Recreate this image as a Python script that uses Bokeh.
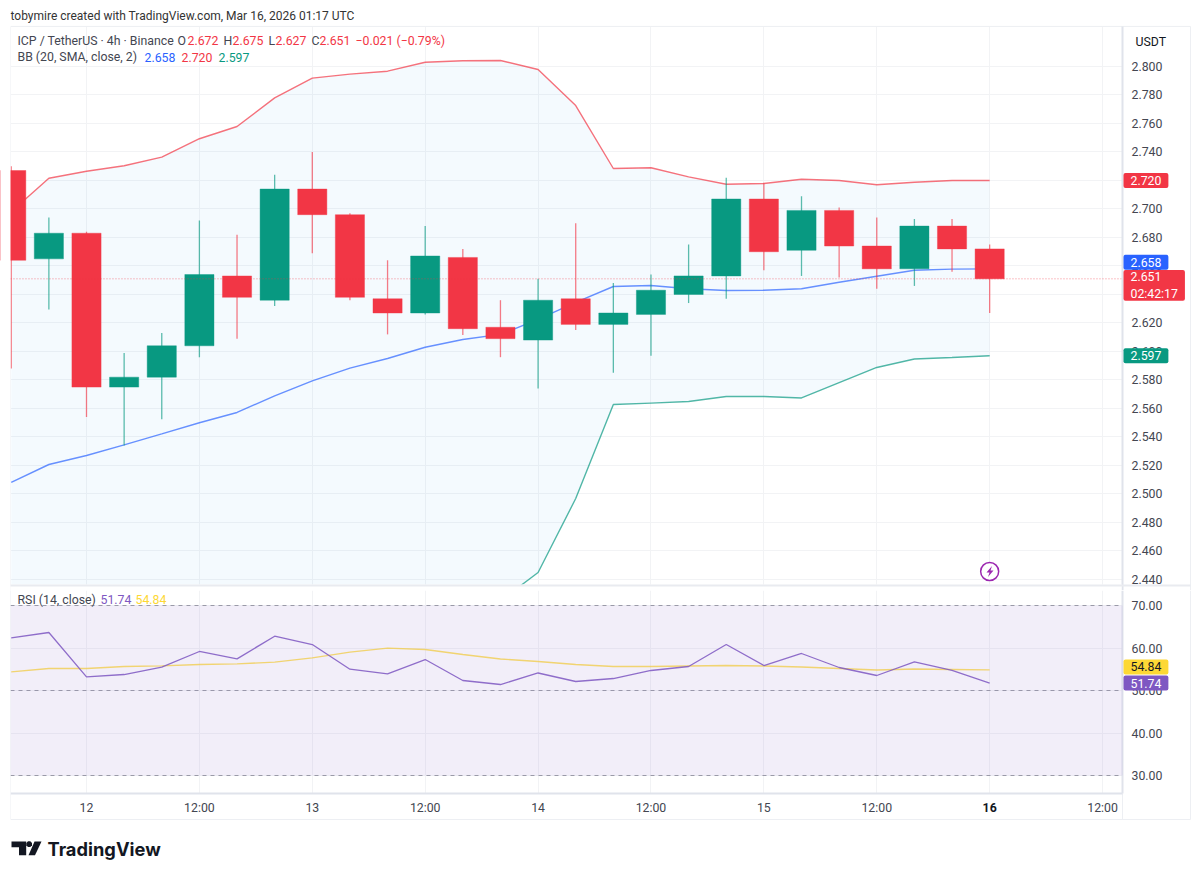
from bokeh.embed import file_html
from bokeh.layouts import column
from bokeh.models import BoxAnnotation, FixedTicker, Label, NumeralTickFormatter, PolyAnnotation, Range1d
from bokeh.plotting import figure
from bokeh.resources import INLINE

# Candles, 4h bars, hours counted from Mar 12 00:00
hours = [-8, -4, 0, 4, 8, 12, 16, 20, 24, 28, 32, 36, 40, 44, 48, 52, 56, 60, 64, 68, 72, 76, 80, 84, 88, 92, 96]
opens = [2.727, 2.665, 2.683, 2.575, 2.582, 2.604, 2.653, 2.636, 2.714, 2.696, 2.637, 2.627, 2.666, 2.617,
         2.608, 2.637, 2.619, 2.626, 2.640, 2.653, 2.707, 2.671, 2.699, 2.674, 2.658, 2.688, 2.672]
highs = [2.730, 2.694, 2.684, 2.599, 2.613, 2.692, 2.682, 2.724, 2.740, 2.697, 2.664, 2.688, 2.672, 2.636,
         2.651, 2.690, 2.648, 2.654, 2.675, 2.722, 2.718, 2.709, 2.701, 2.694, 2.693, 2.693, 2.675]
lows = [2.588, 2.6295, 2.554, 2.534, 2.5525, 2.596, 2.609, 2.632, 2.669, 2.636, 2.612, 2.626, 2.6115, 2.596,
        2.574, 2.615, 2.585, 2.597, 2.634, 2.637, 2.657, 2.653, 2.652, 2.644, 2.646, 2.656, 2.627]
closes = [2.664, 2.683, 2.575, 2.582, 2.604, 2.654, 2.638, 2.714, 2.696, 2.638, 2.627, 2.667, 2.616, 2.609,
          2.636, 2.619, 2.627, 2.643, 2.653, 2.707, 2.670, 2.699, 2.674, 2.658, 2.688, 2.672, 2.651]

# Bollinger bands
bb_upper = [2.698, 2.7216, 2.7265, 2.7303, 2.7364, 2.7493, 2.7579, 2.778, 2.7918, 2.7946, 2.7967, 2.803, 2.804, 2.8042,
            2.7979, 2.7726, 2.7284, 2.7289, 2.7225, 2.7174, 2.7179, 2.7209, 2.72, 2.717, 2.7188, 2.72, 2.72]
bb_basis = [2.5081, 2.5207, 2.527, 2.5345, 2.5422, 2.55, 2.5572, 2.5689, 2.5794, 2.5883, 2.5951, 2.603, 2.6084, 2.612,
            2.6225, 2.6344, 2.6456, 2.6463, 2.644, 2.6428, 2.643, 2.644, 2.6486, 2.6528, 2.657, 2.6578, 2.658]
bb_lower = [2.318, 2.32, 2.3275, 2.339, 2.348, 2.351, 2.3565, 2.36, 2.367, 2.382, 2.3935, 2.403, 2.413, 2.425,
            2.4449, 2.4968, 2.5628, 2.5638, 2.5649, 2.5684, 2.5684, 2.5674, 2.5782, 2.5888, 2.5947, 2.5958, 2.597]

# RSI pane
rsi = [62.4, 63.65, 53.22, 53.76, 55.49, 59.18, 57.45, 62.78, 60.82, 55.01, 53.93, 57.29, 52.35, 51.41,
       54.12, 52.12, 52.82, 54.71, 55.65, 60.82, 55.88, 58.71, 55.41, 53.53, 56.75, 54.71, 51.74]
rsi_ma = [54.4, 55.18, 55.18, 55.65, 55.8, 56.12, 56.27, 56.66, 57.7, 59.02, 59.96, 59.65, 58.47, 57.41,
          56.82, 56.12, 55.65, 55.65, 55.76, 55.88, 55.76, 55.53, 55.18, 54.82, 55.06, 54.94, 54.84]

price_ticks = [2.44, 2.46, 2.48, 2.50, 2.52, 2.54, 2.56, 2.58, 2.60, 2.62, 2.64, 2.66, 2.68, 2.70, 2.72, 2.74, 2.76, 2.78, 2.80]
rsi_ticks = [30, 40, 50, 60, 70]
rsi_levels = [30, 50, 70]
time_ticks = [0, 12, 24, 36, 48, 60, 72, 84, 96, 108]
time_labels = ["12", "12:00", "13", "12:00", "14", "12:00", "15", "12:00", " ", "12:00"]

UP = "#089981"
DOWN = "#F23645"
BLUE = "#2962FF"
PURPLE = "#7E57C2"
YELLOW = "#FDD835"
GRID = "#F2F3F5"
EDGE = "#EDEFF3"
TEXT = "#434651"
FONT = "Roboto"

# Labels outside the frame get clipped with the svg backend, so the frames fill the
# canvas and both axes sit at fixed locations inside them.
X_RANGE = Range1d(-9.1416, 117.56)
PANE_LEFT = -8.079
AXIS_X = 110.12
PANE_RIGHT = 117.35
PRICE_FLOOR, PRICE_BOTTOM, PRICE_TOP = 2.43228, 2.4365, 2.8281
RSI_BOTTOM, RSI_TOP = 25.76, 73.53
RSI_FOOT = 19.65


def text(fig, x, y, s, color=TEXT, size="12.3px", style="normal", font=FONT):
    fig.add_layout(Label(x=x, y=y, x_units="canvas", y_units="canvas", text=s, text_color=color, text_font=font,
                         text_font_size=size, text_font_style=style, text_baseline="middle"))


def tag(fig, value, s, color, text_color="white", y_offset=0):
    fig.add_layout(Label(x=1123, x_units="canvas", y=value, y_offset=y_offset, text=s, text_color=text_color,
                         text_font=FONT, text_font_size="12.3px", text_baseline="middle", padding=(7, 3),
                         background_fill_color=color, border_radius=2))


def style(fig, y0, y1):
    fig.background_fill_color = "white"
    fig.border_fill_color = "white"
    fig.outline_line_color = None
    fig.xgrid.grid_line_color = GRID
    fig.ygrid.grid_line_color = GRID
    fig.xgrid.ticker = FixedTicker(ticks=time_ticks)
    fig.xgrid.cross_bounds = (y0, y1)
    fig.ygrid.cross_bounds = (PANE_LEFT, AXIS_X)
    fig.yaxis.fixed_location = AXIS_X
    fig.yaxis.bounds = (y0, y1)
    fig.yaxis.major_tick_in = 0
    fig.yaxis.major_tick_out = 0
    fig.yaxis.minor_tick_line_color = None
    fig.yaxis.axis_line_color = "#E0E3EB"
    fig.yaxis.axis_line_width = 2
    fig.yaxis.major_label_text_color = TEXT
    fig.yaxis.major_label_text_font = FONT
    fig.yaxis.major_label_text_font_size = "12.3px"
    fig.yaxis.major_label_standoff = 9
    fig.add_layout(BoxAnnotation(right=PANE_LEFT, fill_color="white", fill_alpha=1, line_color=None, level="overlay"))


# ---- price pane
p = figure(width=1192, height=590, x_range=X_RANGE, y_range=Range1d(PRICE_FLOOR, 2.8463), y_axis_location="right",
           x_axis_location=None, output_backend="svg", toolbar_location=None,
           min_border_left=0, min_border_right=0, min_border_top=0, min_border_bottom=0)
style(p, PRICE_FLOOR, PRICE_TOP)
p.yaxis.ticker = FixedTicker(ticks=price_ticks)
p.yaxis.formatter = NumeralTickFormatter(format="0.000")
p.ygrid.ticker = FixedTicker(ticks=price_ticks)

p.segment([PANE_LEFT, PANE_LEFT, PANE_RIGHT], [PRICE_TOP, PRICE_FLOOR, PRICE_FLOOR],
          [PANE_RIGHT, PANE_LEFT, PANE_RIGHT], [PRICE_TOP, PRICE_TOP, PRICE_TOP], line_color=EDGE)

p.varea(hours, bb_lower, bb_upper, fill_color="#2196F3", fill_alpha=0.05)
p.line(hours, bb_upper, line_color=DOWN, line_alpha=0.7, line_width=1.4)
p.line(hours, bb_basis, line_color=BLUE, line_alpha=0.7, line_width=1.4)
p.line(hours, bb_lower, line_color=UP, line_alpha=0.7, line_width=1.4)

colors = [UP if c >= o else DOWN for o, c in zip(opens, closes)]
p.segment(hours, highs, hours, lows, line_color=colors, line_alpha=0.65, line_width=1.3)
p.vbar(hours, width=3.1, bottom=opens, top=closes, fill_color=colors, line_color=colors, line_alpha=0.4)

p.segment([PANE_LEFT], [closes[-1]], [AXIS_X], [closes[-1]], line_color=DOWN, line_alpha=0.6, line_dash="1 2", line_width=1)

# the band runs on below the pane, white it out down to the RSI figure
p.add_layout(BoxAnnotation(top=PRICE_BOTTOM, left=PANE_LEFT, right=AXIS_X - 0.1, fill_color="white", fill_alpha=1,
                           line_color=None, level="overlay"))
p.add_layout(BoxAnnotation(top=PRICE_BOTTOM, bottom=PRICE_BOTTOM - 0.0014, left=PANE_LEFT, right=PANE_RIGHT,
                           fill_color="#E9EBF0", fill_alpha=1, line_color=None, level="overlay"))

p.scatter([hours[-1]], [2.4456], size=18, fill_color="white", line_color="#9C27B0", line_width=1.5)
p.add_layout(PolyAnnotation(xs=[991.5, 986, 989, 987.5, 993, 990], ys=[565.5, 572, 572, 576.5, 570, 570],
                            xs_units="canvas", ys_units="canvas", fill_color="#9C27B0", fill_alpha=1, line_color=None))

text(p, 10, 15, "tobymire created with TradingView.com, Mar 16, 2026 01:17 UTC", "#333333", "12px")
text(p, 17, 40, "ICP / TetherUS \u00b7 4h \u00b7 Binance")
for x, s in [(177, "O"), (223, "H"), (268, "L"), (311, "C")]:
    text(p, x, 40, s)
for x, s in [(187, "2.672"), (232, "2.675"), (275, "2.627"), (319, "2.651"), (355, "\u22120.021 (\u22120.79%)")]:
    text(p, x, 40, s, DOWN)
text(p, 17, 56.5, "BB (20, SMA, close, 2)")
text(p, 144, 56.5, "2.658", BLUE)
text(p, 181, 56.5, "2.720", DOWN)
text(p, 218, 56.5, "2.597", UP)
text(p, 1135, 41, "USDT", "#131722")

tag(p, 2.720, "2.720", DOWN)
tag(p, 2.658, "2.658", BLUE, y_offset=6.5)
tag(p, 2.597, "2.597", UP)
p.add_layout(Label(x=1123, x_units="canvas", y=closes[-1], y_offset=-6.5, text="2.651\n02:42:17", text_color="white",
                   text_font=FONT, text_font_size="12.3px", text_baseline="middle", padding=(7, 0),
                   background_fill_color=DOWN, border_radius=2))

# ---- RSI pane
r = figure(width=1192, height=280, x_range=X_RANGE, y_range=Range1d(7.647, RSI_TOP), y_axis_location="right",
           output_backend="svg", toolbar_location=None,
           min_border_left=0, min_border_right=0, min_border_top=0, min_border_bottom=0)
style(r, RSI_BOTTOM, RSI_TOP)
r.yaxis.ticker = FixedTicker(ticks=rsi_ticks)
r.yaxis.formatter = NumeralTickFormatter(format="0.00")
r.ygrid.ticker = FixedTicker(ticks=rsi_ticks)
r.xaxis.fixed_location = RSI_BOTTOM
r.xaxis.bounds = (PANE_LEFT, AXIS_X)
r.xaxis.ticker = FixedTicker(ticks=time_ticks)
r.xaxis.major_label_overrides = dict(zip(time_ticks, time_labels))
r.xaxis.major_tick_in = 0
r.xaxis.major_tick_out = 0
r.xaxis.minor_tick_line_color = None
r.xaxis.axis_line_color = "#E0E3EB"
r.xaxis.axis_line_width = 2
r.xaxis.major_label_text_color = TEXT
r.xaxis.major_label_text_font = FONT
r.xaxis.major_label_text_font_size = "12.3px"
r.xaxis.major_label_standoff = 7

r.segment([PANE_LEFT, PANE_LEFT, PANE_RIGHT, AXIS_X], [RSI_FOOT, RSI_TOP, RSI_TOP, RSI_FOOT],
          [PANE_RIGHT, PANE_LEFT, PANE_RIGHT, AXIS_X], [RSI_FOOT, RSI_FOOT, RSI_FOOT, RSI_BOTTOM],
          line_color=EDGE)

r.add_layout(BoxAnnotation(left=PANE_LEFT, right=AXIS_X, bottom=rsi_levels[0], top=rsi_levels[-1],
                           fill_color=PURPLE, fill_alpha=0.1, line_color=None))
r.segment([PANE_LEFT] * 3, rsi_levels, [AXIS_X] * 3, rsi_levels, line_color="#787B86", line_alpha=0.7,
          line_dash="4 4", line_width=1)
r.line(hours, rsi_ma, line_color=YELLOW, line_alpha=0.75, line_width=1.3)
r.line(hours, rsi, line_color=PURPLE, line_alpha=0.85, line_width=1.3)

text(r, 17, 9, "RSI (14, close)")
text(r, 100, 9, "51.74", PURPLE)
text(r, 135, 9, "54.84", YELLOW)
tag(r, 54.84, "54.84", YELLOW, "#131722", y_offset=3)
tag(r, 51.74, "51.74", PURPLE)

# bold date at the end of the time axis
r.add_layout(Label(x=96, y=RSI_BOTTOM, y_offset=-13.5, text="16", text_color="#131722", text_font=FONT,
                   text_font_size="12.3px", text_font_style="bold", text_align="center", text_baseline="middle"))

# TradingView mark
for xs, ys in [([11, 25.7, 25.7, 18.5, 18.5, 11], [251, 251, 264.7, 264.7, 256.8, 256.8]),
               ([34, 41, 34.5, 28], [251, 251, 264.7, 264.7]),
               ([27.5, 29.8, 31.5, 31.5, 29.8, 27.5, 25.8, 25.8], [250.8, 250.8, 252.5, 254.8, 256.5, 256.5, 254.8, 252.5])]:
    r.add_layout(PolyAnnotation(xs=xs, ys=ys, xs_units="canvas", ys_units="canvas", fill_color="#131722", fill_alpha=1, line_color=None))
text(r, 47, 258, "TradingView", "#131722", "18.3px", "bold", "Inter")

page = column(p, r, spacing=0)
open("out.html", "w").write(file_html(page, INLINE))
